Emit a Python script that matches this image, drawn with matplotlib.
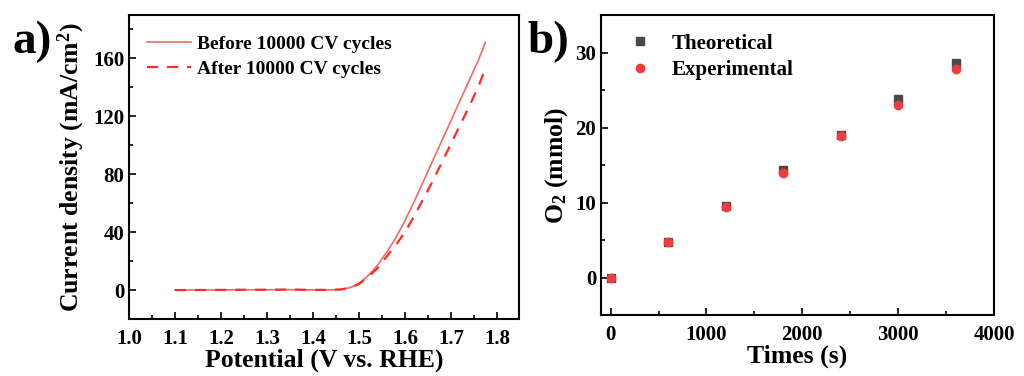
import matplotlib
matplotlib.use("Agg")
import matplotlib.pyplot as plt
from matplotlib.ticker import MultipleLocator

plt.rcParams['font.family'] = ['Liberation Serif', 'DejaVu Serif']
plt.rcParams['font.weight'] = 'bold'
plt.rcParams['mathtext.fontset'] = 'custom'
plt.rcParams['mathtext.rm'] = 'Liberation Serif:bold'
plt.rcParams['mathtext.it'] = 'Liberation Serif:bold'
plt.rcParams['mathtext.bf'] = 'Liberation Serif:bold'

# Panel a data
potential = [1.10, 1.15, 1.20, 1.25, 1.30, 1.35, 1.40, 1.44, 1.46, 1.48, 1.50, 1.52, 1.54,
             1.56, 1.58, 1.60, 1.62, 1.64, 1.66, 1.68, 1.70, 1.72, 1.74, 1.76, 1.775]
before = [0.0, 0.0, 0.1, 0.2, 0.2, 0.3, 0.1, 0.1, 0.4, 1.6, 4.5, 10, 17,
          26, 36, 48, 61, 75, 89, 103, 117, 131, 145, 159, 171]
after = [0.0, 0.0, 0.1, 0.2, 0.2, 0.3, 0.1, 0.1, 0.4, 1.5, 4.2, 9, 15,
         23, 31, 40, 51, 63, 75, 88, 101, 114, 127, 141, 153]

# Panel b data
times = [0, 600, 1200, 1800, 2400, 3000, 3600]
theoretical = [0.0, 4.8, 9.5, 14.35, 19.05, 23.85, 28.65]
experimental = [0.0, 4.7, 9.35, 14.0, 18.85, 22.95, 27.8]

fig = plt.figure(figsize=(10.24, 3.76), dpi=100)
W, H = 1024, 376
ax1 = fig.add_axes([129 / W, 1 - 319 / H, (519 - 129) / W, (319 - 15) / H])
ax2 = fig.add_axes([601 / W, 1 - 315 / H, (994 - 601) / W, (315 - 15) / H])

tick_fs = 15
label_fs = 18.5

ax1.plot(potential, before, color='#f26a6a', lw=1.2, label='Before 10000 CV cycles')
ax1.plot(potential, after, color='#ff2a2a', lw=1.6, ls=(0, (5, 4)), label='After 10000 CV cycles')
ax1.set_xlim(1.0, 1.848)
ax1.set_ylim(-20, 190)
ax1.xaxis.set_minor_locator(MultipleLocator(0.05))
ax1.yaxis.set_minor_locator(MultipleLocator(20))
ax1.set_xticks([1.0, 1.1, 1.2, 1.3, 1.4, 1.5, 1.6, 1.7, 1.8])
ax1.set_xticklabels(['1.0', '1.1', '1.2', '1.3', '1.4', '1.5', '1.6', '1.7', '1.8'])
ax1.set_yticks([0, 40, 80, 120, 160])
ax1.set_xlabel('Potential (V vs. RHE)', fontsize=label_fs, fontweight='bold', labelpad=0)
ax1.set_ylabel('Current density (mA/cm$^2$)', fontsize=label_fs, fontweight='bold', labelpad=4)
ax1.legend(loc='upper left', bbox_to_anchor=(0.0, 0.99), frameon=False,
           prop={'size': 14, 'weight': 'bold'}, handlelength=2.3, handletextpad=0.3,
           labelspacing=0.35)

ax2.plot(times, theoretical, ls='none', marker='s', ms=5.5, color='#4a4a4a', label='Theoretical')
ax2.plot(times, experimental, ls='none', marker='o', ms=6, color='#f03c3c', label='Experimental')
ax2.set_xlim(-100, 4000)
ax2.set_ylim(-5, 35)
ax2.xaxis.set_minor_locator(MultipleLocator(500))
ax2.yaxis.set_minor_locator(MultipleLocator(5))
ax2.set_xticks([0, 1000, 2000, 3000, 4000])
ax2.set_yticks([0, 10, 20, 30])
ax2.set_xlabel('Times (s)', fontsize=label_fs, fontweight='bold', labelpad=0)
ax2.set_ylabel('O$_2$ (mmol)', fontsize=label_fs, fontweight='bold', labelpad=4)
ax2.legend(loc='upper left', bbox_to_anchor=(0.02, 1.0), frameon=False,
           prop={'size': 15, 'weight': 'bold'}, handlelength=1.2, handletextpad=0.9,
           labelspacing=0.3)

for ax in (ax1, ax2):
    for s in ax.spines.values():
        s.set_linewidth(1.5)
    ax.tick_params(which='both', direction='in', width=1.2, labelsize=tick_fs)
    ax.tick_params(which='major', length=5)
    ax.tick_params(which='minor', length=3)
    ax.tick_params(axis='x', which='major', pad=7)
    for lab in ax.get_xticklabels() + ax.get_yticklabels():
        lab.set_fontweight('bold')

fig.text(13 / W, 1 - 53 / H, 'a)', fontsize=34, fontweight='bold', va='baseline', ha='left')
fig.text(527 / W, 1 - 53 / H, 'b)', fontsize=34, fontweight='bold', va='baseline', ha='left')

fig.savefig('out.png', dpi=100)
